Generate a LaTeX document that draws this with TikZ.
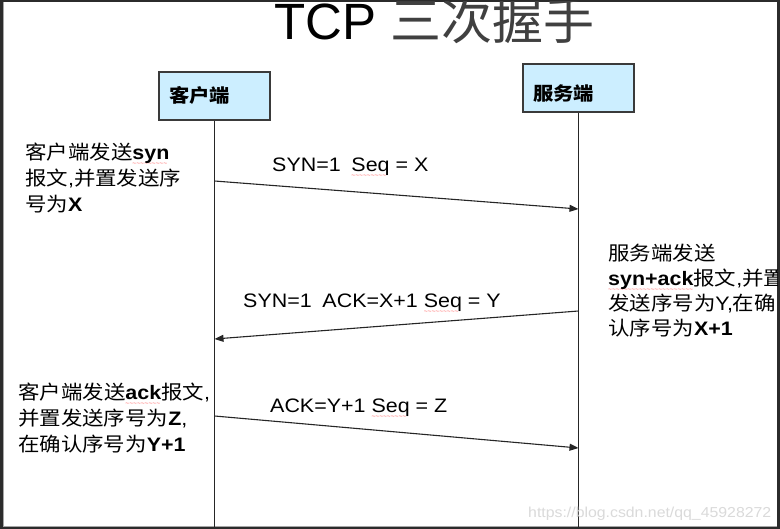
\documentclass[tikz,border=0pt]{standalone}
\usepackage{fontspec}
\setmainfont{Liberation Sans}[FakeStretch=1.1]
\newfontfamily\cjk{Noto Sans CJK SC}[FakeStretch=1.1]
\newfontfamily\titlelat{Liberation Sans}
\newfontfamily\titlecjk{Noto Sans CJK SC}
\usetikzlibrary{arrows.meta}
\definecolor{framecol}{HTML}{2B2B2B}
\definecolor{boxfill}{HTML}{CCEEFF}
\definecolor{boxline}{HTML}{3A3A3A}
\definecolor{markcol}{HTML}{DADADA}
\newcommand\zh[1]{{\cjk #1}}
\newsavebox\wavebox
\newcommand\redwave[1]{\sbox\wavebox{#1}%
  \rlap{\lower6pt\hbox to \wd\wavebox{\color{red!70}\leaders\hbox{\fontsize{6}{6}\selectfont\textasciitilde}\hfill}}%
  \usebox\wavebox}
\begin{document}
\begin{tikzpicture}[x=1pt,y=-1pt,
  body/.style={anchor=base west, inner sep=0pt, align=left, font=\fontsize{19.5}{26}\selectfont},
  msglabel/.style={anchor=base west, inner sep=0pt, font=\fontsize{19.5}{22}\selectfont},
  actor/.style={draw=boxline, line width=1.3pt, fill=boxfill, minimum width=111pt, minimum height=48pt,
    inner xsep=10pt, inner ysep=0pt, text width=91pt, align=left, text depth=0pt,
    font=\fontsize{18.5}{20}\selectfont\bfseries\cjk},
  life/.style={line width=1.3pt, draw=black!85},
  msg/.style={line width=1.1pt, draw=black!85, -{Triangle[length=9pt,width=7pt]}}]
\useasboundingbox (0,0) rectangle (780,529);
\fill[framecol] (0,0) rectangle (780,529);
\fill[white] (4,2) rectangle (777,526);
\draw[gray!70, line width=0.8pt] (3.6,2) -- (3.6,526.4) -- (777,526.4);
\begin{scope}
\clip (4,2) rectangle (777,526);
\node[anchor=base west, inner sep=0pt] (title) at (274,40)
  {\fontsize{51}{51}\selectfont\titlelat TCP {\titlecjk\color{black!75}三次握手}};
\node[actor, text height=14pt] (client) at (214.5,96) {客户端};
\node[actor, text height=26pt] (server) at (578.5,88) {服务端};
\coordinate (cbot) at (214.5,527);
\coordinate (sbot) at (578.5,527);
\draw[life] (client.south) -- (cbot);
\draw[life] (server.south) -- (sbot);
% messages
\coordinate (m1a) at (214.5,181); \coordinate (m1b) at (578.5,209);
\coordinate (m2a) at (578.5,311); \coordinate (m2b) at (214.5,339);
\coordinate (m3a) at (214.5,416); \coordinate (m3b) at (578.5,448);
\draw[msg] (m1a) -- (m1b);
\draw[msg] (m2a) -- (m2b);
\draw[msg] (m3a) -- (m3b);
\node[msglabel] (l1) at (272,172) {SYN=1\hspace{0.55em}\redwave{Seq} = X};
\node[msglabel] (l2) at (243,308) {SYN=1\hspace{0.55em}ACK=X+1 \redwave{Seq} = Y};
\node[msglabel] (l3) at (270,413) {ACK=Y+1 \redwave{Seq} = Z};
% notes (anchor base = baseline of the last line)
\node[body] (n1) at (25,212) {\zh{客户端发送}\redwave{\textbf{syn}}\\\zh{报文},\zh{并置发送序}\\\zh{号为}\textbf{X}};
\node[body, font=\fontsize{19.5}{25}\selectfont] (n2) at (608,336) {\zh{服务端发送}\\\redwave{\textbf{syn+ack}}\zh{报文},\zh{并置}\\\zh{发送序号为}Y,\zh{在确}\\\zh{认序号为}\textbf{X+1}};
\node[body] (n3) at (18,452) {\zh{客户端发送}\redwave{\textbf{ack}}\zh{报文},\\\zh{并置发送序号为}\textbf{Z},\\\zh{在确认序号为}\textbf{Y+1}};
\node[anchor=base west, inner sep=0pt, text=markcol, font=\fontsize{14.4}{16}\selectfont] (wm) at (528,518) {https://blog.csdn.net/qq\_45928272};
\end{scope}
\end{tikzpicture}
\end{document}
